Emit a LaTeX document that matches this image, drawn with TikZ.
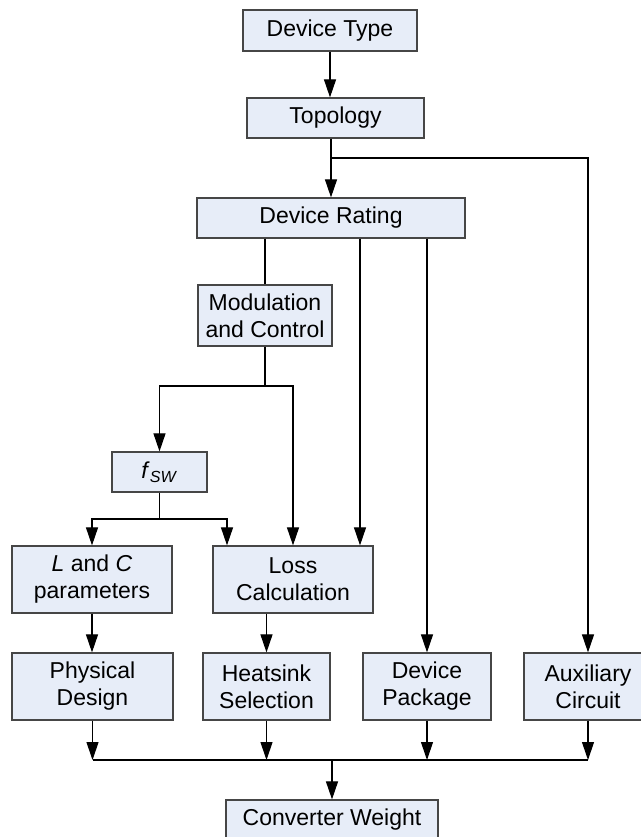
\documentclass[tikz,border=0pt]{standalone}
\usepackage{fontspec}
\setmainfont{Liberation Sans}
\usetikzlibrary{arrows.meta}
\definecolor{boxfill}{RGB}{231,237,248}
\definecolor{boxline}{RGB}{70,70,70}

\begin{document}
\begin{tikzpicture}[x=1pt,y=-1pt,line width=1.1pt,
  box/.style={draw=boxline,fill=boxfill,line width=1.2pt,inner sep=0pt,align=center,
    font=\fontsize{23}{27}\selectfont},
  arr/.style={-{Triangle[length=18pt,width=12pt]}}]
\useasboundingbox (0,0) rectangle (640,837);

% boxes
\node [box,minimum width=174pt,minimum height=41pt] (dtype) at (330,30.5) {Device Type};
\node [box,minimum width=177pt,minimum height=40pt] (topo) at (335.5,118) {Topology};
\node [box,minimum width=268pt,minimum height=40pt] (rating) at (331,218) {Device Rating};
\node [box,minimum width=134pt,minimum height=61pt] (modctl) at (265,315.5) {Modulation\\and Control};
\node [box,minimum width=95pt,minimum height=40pt] (fsw) at (159.5,472) {\textit{f}\textsubscript{\textit{SW}}};
\node [box,minimum width=160pt,minimum height=67pt] (lc) at (92,579.5) {\textit{L} and \textit{C}\\parameters};
\node [box,minimum width=160pt,minimum height=67pt] (loss) at (293,579.5) {Loss\\Calculation};
\node [box,minimum width=161pt,minimum height=67pt] (phys) at (92.5,686.5) {Physical\\Design};
\node [box,minimum width=127pt,minimum height=67pt] (heat) at (266.5,686.5) {Heatsink\\Selection};
\node [box,minimum width=128pt,minimum height=67pt] (pack) at (427,686.5) {Device\\Package};
\node [box,minimum width=128pt,minimum height=67pt] (aux) at (588,686.5) {Auxiliary\\Circuit};
\node [box,minimum width=212pt,minimum height=40pt] (weight) at (332,820) {Converter Weight};

% junctions
\coordinate (j1) at (331,158);
\coordinate (j2) at (265,386);
\coordinate (j3) at (159.5,519);
\coordinate (j4) at (332,760);

% top part
\draw[arr] (dtype.south) -- (dtype.south |- topo.north);
\draw[arr] (rating |- topo.south) -- (rating.north);
\draw[arr] (j1) -| (aux.north);
\draw (rating.south -| modctl) -- (modctl.north);
\draw[arr] (rating.south -| 360,0) -- (loss.north -| 360,0);
\draw[arr] (rating.south -| pack) -- (pack.north);

% middle part
\draw (modctl.south) -- (j2);
\draw[arr] (j2) -| (fsw.north);
\draw[arr] (j2) -| (loss.north);
\draw (fsw.south) -- (j3);
\draw[arr] (j3) -| (lc.north);
\draw[arr] (j3) -| (loss.north -| 227,0);
\draw[arr] (lc.south) -- (lc.south |- phys.north);
\draw[arr] (heat |- loss.south) -- (heat.north);

% bottom part
\foreach \b in {phys,heat,pack,aux}
  \draw[arr] (\b.south) -- (\b |- j4);
\draw (phys |- j4) -- (aux |- j4);
\draw[arr] (j4) -- (weight.north);
\end{tikzpicture}
\end{document}
